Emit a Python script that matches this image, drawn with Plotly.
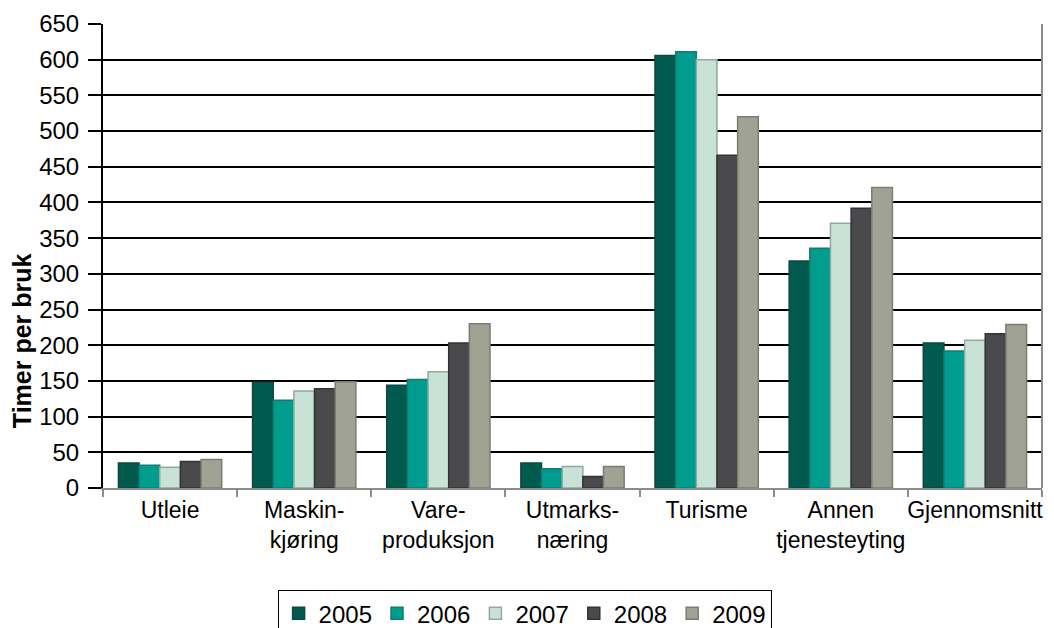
import plotly.graph_objects as go

categories = ["Utleie", "Maskin-<br>kjøring", "Vare-<br>produksjon", "Utmarks-<br>næring",
              "Turisme", "Annen<br>tjenesteyting", "Gjennomsnitt"]
years = ["2005", "2006", "2007", "2008", "2009"]

v2005 = [35, 148, 144, 35, 606, 318, 203]
v2006 = [32, 123, 152, 27, 611, 336, 192]
v2007 = [29, 136, 163, 30, 600, 371, 207]
v2008 = [37, 139, 203, 16, 466, 392, 216]
v2009 = [40, 149, 230, 30, 520, 421, 229]

series = [v2005, v2006, v2007, v2008, v2009]
fills = ["#005A4E", "#009C8E", "#C8E2D6", "#4A4A4C", "#A0A294"]
edges = ["#0B4A42", "#0B7F74", "#93A89E", "#333335", "#7B7D70"]

fig = go.Figure()
for year, vals, fc, ec in zip(years, series, fills, edges):
    fig.add_trace(go.Bar(
        x=categories, y=vals, name=year,
        marker=dict(color=fc, line=dict(color=ec, width=1.5)),
    ))

# page body adds an 8px margin, so the figure is sized/shifted to compensate
fig.update_layout(
    width=1046, height=620,
    paper_bgcolor="white", plot_bgcolor="white",
    font=dict(family="Liberation Sans, Arial", size=23, color="black"),
    margin=dict(l=95, r=12, t=16, b=140, autoexpand=False),
    barmode="group", bargap=0.23, bargroupgap=0,
    showlegend=True,
    legend=dict(orientation="h", x=0.449, xanchor="center", y=-0.22, yanchor="top",
                bordercolor="black", borderwidth=1, font=dict(size=24),
                itemwidth=30, tracegroupgap=0),
    xaxis=dict(showgrid=False, showline=True, linecolor="#8C8C8C", linewidth=2,
               ticks="outside", tickson="boundaries", ticklen=7, tickcolor="#8C8C8C",
               tickwidth=2, tickfont=dict(size=23), tickangle=0, automargin=False),
    yaxis=dict(range=[0, 650], dtick=50, showgrid=True, gridcolor="black", gridwidth=1.5,
               zeroline=False, showline=True, linecolor="black", linewidth=2,
               ticks="outside", ticklen=13, tickcolor="black", tickwidth=1.5,
               ticklabelstandoff=4, tickfont=dict(size=24), automargin=False),
    annotations=[dict(text="<b>Timer per bruk</b>", textangle=-90, showarrow=False,
                      xref="paper", yref="y", x=-0.0863, y=207,
                      xanchor="center", yanchor="middle", font=dict(size=25))],
    shapes=[dict(type="line", xref="paper", yref="paper", x0=1, x1=1, y0=0, y1=1,
                 line=dict(color="#8C8C8C", width=2))],
)

fig.write_html("out.html")
